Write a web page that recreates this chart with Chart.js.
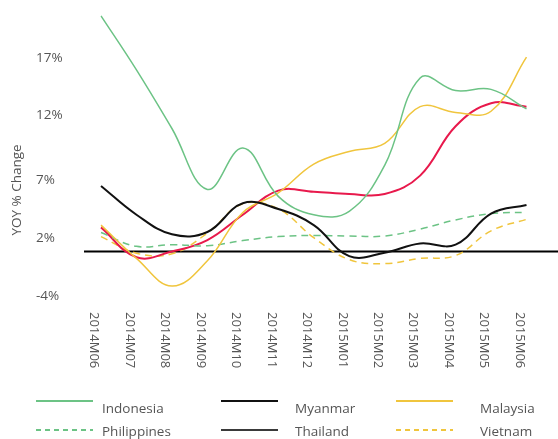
<!DOCTYPE html>
<html><head><meta charset="utf-8">
<script src="https://cdn.jsdelivr.net/npm/chart.js@4/dist/chart.umd.min.js"></script>
<style>
html,body{margin:0;padding:0;background:#fff;}
#wrap{position:relative;width:558px;height:439px;overflow:hidden;font-family:'Open Sans',sans-serif;}
#c{position:absolute;left:0;top:0;}
.sw{position:absolute;}
.lt{position:absolute;font-size:13.5px;line-height:16px;color:#555;font-weight:400;white-space:nowrap;}
</style></head>
<body><div id="wrap"><canvas id="c" width="558" height="439"></canvas><div id="legend"></div></div>
<script>
const categories = ['2014M06','2014M07','2014M08','2014M09','2014M10','2014M11','2014M12','2015M01','2015M02','2015M03','2015M04','2015M05','2015M06'];
const indonesia   = [20.5, 15.8, 10.7, 5.4, 9.0, 4.8, 3.2, 3.5, 7.5, 15.1, 14.0, 14.1, 12.4];
const myanmar     = [5.7, 3.2, 1.5, 1.7, 4.2, 3.7, 2.3, -0.4, -0.1, 0.7, 0.6, 3.3, 4.05];
const malaysia    = [2.3, -0.6, -3.0, -0.8, 3.4, 5.1, 7.6, 8.7, 9.4, 12.6, 12.1, 12.2, 16.9];
const philippines = [1.65, 0.45, 0.6, 0.5, 0.95, 1.3, 1.4, 1.35, 1.35, 1.95, 2.75, 3.3, 3.4];
const thailand    = [2.1, -0.5, 0.0, 1.0, 3.2, 5.3, 5.2, 5.0, 5.0, 6.6, 10.9, 12.9, 12.6];
const vietnam     = [1.3, -0.15, -0.2, 1.6, 4.15, 3.7, 1.2, -0.7, -1.05, -0.6, -0.35, 1.8, 2.8];
const yTickValues = [-3.87, 1.18, 6.2, 11.9, 16.81];
const yTickLabels = ['-4%', '2%', '7%', '12%', '17%'];
const yTitle = 'YOY % Change';

const GREEN = '#6cc385', YELLOW = '#f0c53d', RED = '#e8194c', BLACK = '#111111';
const FONT = "'Open Sans', sans-serif";

const datasets = [
  {label:'Indonesia', data:indonesia, borderColor:GREEN, borderWidth:1.5, legendColor:GREEN, dash:false},
  {label:'Myanmar', data:myanmar, borderColor:BLACK, borderWidth:2, legendColor:BLACK, dash:false},
  {label:'Malaysia', data:malaysia, borderColor:YELLOW, borderWidth:1.5, legendColor:YELLOW, dash:false},
  {label:'Philippines', data:philippines, borderColor:GREEN, borderWidth:1.5, borderDash:[7,5], legendColor:GREEN, dash:true},
  {label:'Thailand', data:thailand, borderColor:RED, borderWidth:2, legendColor:'#3a3a3a', dash:false},
  {label:'Vietnam', data:vietnam, borderColor:YELLOW, borderWidth:1.5, borderDash:[7,5], legendColor:YELLOW, dash:true}
];

const customDraw = {
  id:'customDraw',
  beforeDatasetsDraw(chart){
    const {ctx, chartArea} = chart;
    const py = chart.scales.y.getPixelForValue(0);
    ctx.save();
    ctx.strokeStyle = '#000'; ctx.lineWidth = 2;
    ctx.beginPath(); ctx.moveTo(chartArea.left - 17, py); ctx.lineTo(chart.width, py); ctx.stroke();
    ctx.restore();
  },
  afterDraw(chart){
    const {ctx, chartArea} = chart;
    const x = chart.scales.x;
    ctx.save();
    ctx.fillStyle = '#555';
    ctx.font = '400 13px ' + FONT;
    ctx.textAlign = 'left'; ctx.textBaseline = 'middle';
    categories.forEach((c, i) => {
      const px = x.getPixelForValue(i);
      ctx.save();
      ctx.translate(px - 7, chartArea.bottom + 7);
      ctx.rotate(Math.PI / 2);
      ctx.fillText(c, 0, 0);
      ctx.restore();
    });
    ctx.font = '400 13.5px ' + FONT;
    ctx.translate(17, 190);
    ctx.rotate(-Math.PI / 2);
    ctx.textAlign = 'center';
    ctx.fillText(yTitle, 0, 0);
    ctx.restore();
  }
};

const chart = new Chart(document.getElementById('c'), {
  type:'line',
  data:{labels:categories, datasets:datasets.map(d => Object.assign({fill:false, pointRadius:0, tension:0.4}, d))},
  options:{
    responsive:false, animation:false, devicePixelRatio:1,
    layout:{padding:{left:36, top:5, right:31.5, bottom:134}},
    plugins:{legend:{display:false}, tooltip:{enabled:false}},
    scales:{
      x:{type:'category', offset:false, grid:{display:false, drawTicks:false, tickLength:0}, border:{display:false}, ticks:{display:false}},
      y:{min:-4.65, max:21.17, grid:{display:false, drawTicks:false, tickLength:0}, border:{display:false},
         afterBuildTicks(s){ s.ticks = yTickValues.map(v => ({value:v})); },
         afterFit(s){ s.width = 65; },
         ticks:{crossAlign:'far', padding:0, color:'#555', autoSkip:false,
                font:{family:FONT, size:13.5, weight:'400'},
                callback:(v, i) => yTickLabels[i]}}
    }
  },
  plugins:[customDraw]
});

// HTML legend built from datasets (3 columns x 2 rows)
const colSwatchX = [36, 221, 396], colTextX = [102, 295, 480];
const rowSwatchY = [401, 430], rowTextY = [408, 431];
const lg = document.getElementById('legend');
chart.data.datasets.forEach((d, i) => {
  const col = i % 3, row = Math.floor(i / 3);
  const svgNS = 'http://www.w3.org/2000/svg';
  const svg = document.createElementNS(svgNS, 'svg');
  svg.setAttribute('width', '57'); svg.setAttribute('height', '4');
  svg.setAttribute('class', 'sw');
  svg.style.left = colSwatchX[col] + 'px';
  svg.style.top = (rowSwatchY[row] - 2) + 'px';
  const ln = document.createElementNS(svgNS, 'line');
  ln.setAttribute('x1', '0'); ln.setAttribute('x2', '57');
  ln.setAttribute('y1', '2'); ln.setAttribute('y2', '2');
  ln.setAttribute('stroke', d.legendColor);
  ln.setAttribute('stroke-width', '2');
  if (d.dash) ln.setAttribute('stroke-dasharray', '5,4');
  svg.appendChild(ln);
  lg.appendChild(svg);
  const t = document.createElement('div');
  t.className = 'lt';
  t.textContent = d.label;
  t.style.left = colTextX[col] + 'px';
  t.style.top = (rowTextY[row] - 8) + 'px';
  lg.appendChild(t);
});
</script>
</body></html>
